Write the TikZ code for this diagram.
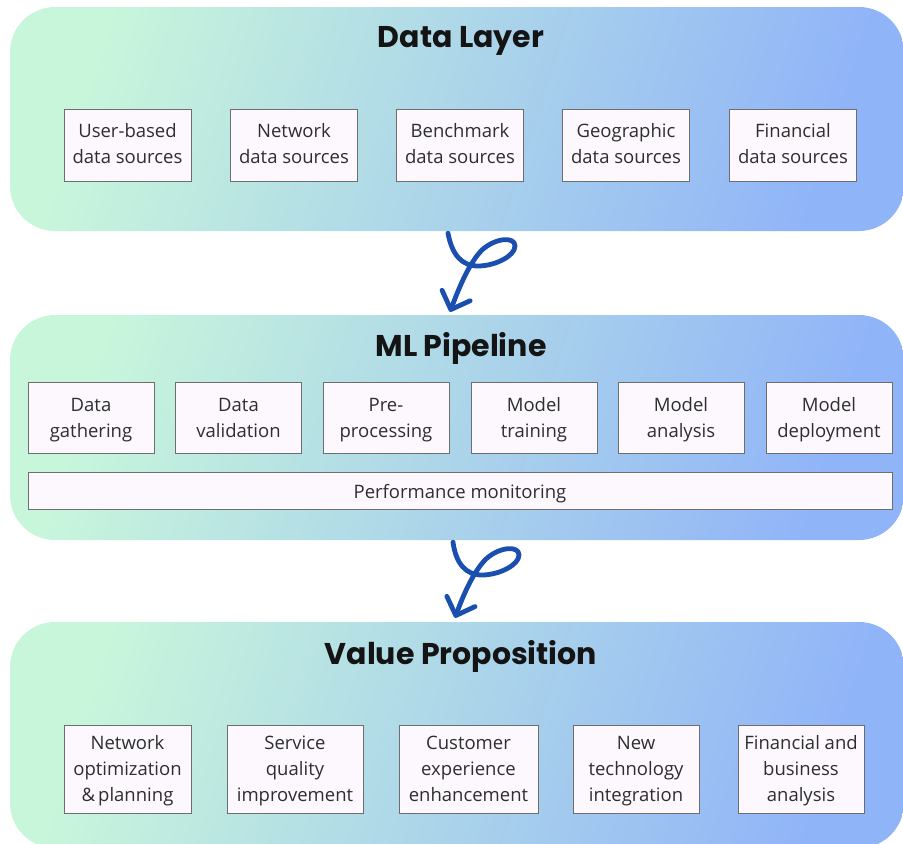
\documentclass[tikz,border=0pt]{standalone}
\usepackage{fontspec}
\setmainfont{Open Sans}
\newfontfamily\headfont{Poppins}
\usetikzlibrary{arrows.meta,calc}

\definecolor{mintl}{HTML}{C8F6DB}
\definecolor{midl}{HTML}{AAD8EA}
\definecolor{bluel}{HTML}{90B4F8}
\definecolor{boxfill}{HTML}{FCF8FD}
\definecolor{boxline}{HTML}{6E6E6E}
\definecolor{bodytext}{HTML}{2E2E2E}
\definecolor{arrowblue}{HTML}{1A4FB0}

\tikzset{
  panel/.style={rounded corners=45pt, left color=mintl, middle color=midl,
    right color=bluel, shading angle=72, minimum width=894pt, inner sep=0pt},
  headline/.style={font=\headfont\bfseries\fontsize{30}{36}\selectfont, text=black!92},
  item/.style={draw=boxline, line width=0.9pt, fill=boxfill, text=bodytext,
    align=center, inner sep=0pt, font=\fontsize{18.5}{26}\selectfont, text depth=8pt},
  srcbox/.style={item, minimum width=127pt, minimum height=72pt, text height=44pt},
  stagebox/.style={item, minimum width=126pt, minimum height=71pt, text height=47pt},
  valuebox/.style={item, minimum height=88pt, text height=72pt},
  loopy/.style={draw=arrowblue, line width=4.8pt, line cap=round, line join=round,
    -{Straight Barb[length=15pt, width=30pt, line cap=round, line join=round]}}
}

\begin{document}
\begin{tikzpicture}[x=1pt, y=-1pt]
\useasboundingbox (0,0) rectangle (903,844);

% three layers
\node[panel, minimum height=224pt] (dl) at (457,119) {};
\node[panel, minimum height=225pt] (ml) at (457,427.5) {};
\node[panel, minimum height=226pt] (vp) at (457,735) {};

% headings
\node[headline] (dlt) at (461,41) {Data Layer};
\node[headline] (mlt) at (461,348) {ML Pipeline};
\node[headline] (vpt) at (461,656) {Value Proposition};

% data sources
\node[srcbox] (s1) at (127.5,145) {User-based\\data sources};
\node[srcbox] (s2) at (294,145) {Network\\data sources};
\node[srcbox] (s3) at (460,145) {Benchmark\\data sources};
\node[srcbox] (s4) at (626,145) {Geographic\\data sources};
\node[srcbox] (s5) at (793,145) {Financial\\data sources};

% pipeline stages
\node[stagebox] (p1) at (91,417.5) {Data\\gathering};
\node[stagebox] (p2) at (238.5,417.5) {Data\\validation};
\node[stagebox] (p3) at (386,417.5) {Pre-\\processing};
\node[stagebox] (p4) at (534,417.5) {Model\\training};
\node[stagebox] (p5) at (681,417.5) {Model\\analysis};
\node[stagebox] (p6) at (829,417.5) {Model\\deployment};
\node[item, minimum width=864pt, minimum height=37pt, text height=24pt]
  (pm) at (460,490.5) {Performance monitoring};

% value outcomes
\node[valuebox, minimum width=127pt] (v1) at (127.5,769) {Network\\optimization\\\&\,planning};
\node[valuebox, minimum width=136pt] (v2) at (295,769) {Service\\quality\\improvement};
\node[valuebox, minimum width=139pt] (v3) at (468.5,769) {Customer\\experience\\enhancement};
\node[valuebox, minimum width=126pt] (v4) at (636,769) {New\\technology\\integration};
\node[valuebox, minimum width=126pt] (v5) at (801,769) {Financial and\\business\\analysis};

% looped arrows between layers
\coordinate (a1s) at ($(dl.south)+(-9,2)$);
\coordinate (a1e) at ($(ml.north)+(-7,-3)$);
\draw[loopy] (a1s) .. controls (452,255) and (462,266) .. (478,266)
  .. controls (495,266) and (515,256) .. (515,246)
  .. controls (515,236) and (495,238) .. (482,250)
  .. controls (470,262) and (460,285) .. (a1e);

\coordinate (a2s) at ($(ml.south)+(-4,2)$);
\coordinate (a2e) at ($(vp.north)+(-2,-4)$);
\draw[loopy] (a2s) .. controls (456,564) and (466,575) .. (482,575)
  .. controls (499,575) and (519,565) .. (519,555)
  .. controls (519,545) and (499,547) .. (486,559)
  .. controls (474,571) and (464,593) .. (a2e);
\end{tikzpicture}
\end{document}
